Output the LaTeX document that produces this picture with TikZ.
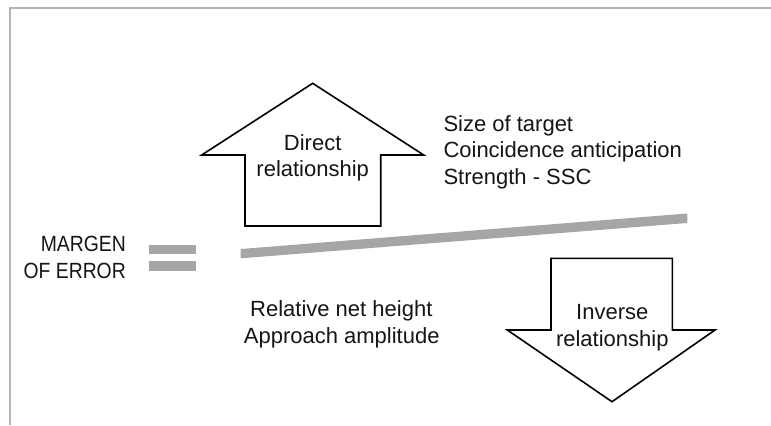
\documentclass[tikz,border=0pt]{standalone}
\usepackage{fontspec}
\setmainfont{Liberation Sans}
\definecolor{framegray}{HTML}{B4B4B4}
\definecolor{bargray}{HTML}{A6A6A6}
\definecolor{txt}{HTML}{151515}
\begin{document}
\begin{tikzpicture}[x=1bp,y=-1bp,
  lbl/.style={inner sep=0pt,text=txt,font=\fontsize{22bp}{26.6bp}\selectfont},
  arrowshape/.style={draw=black,line width=1.6bp,fill=white,line join=miter},
  barfill/.style={fill=bargray,draw=none}]
\useasboundingbox (0,0) rectangle (771,425);
\fill[white] (0,0) rectangle (771,425);
% frame
\draw[framegray,line width=2bp] (10,425) -- (10,8) -- (771,8);
% equals sign
\fill[barfill] (149,245) rectangle (196,254.3);
\fill[barfill] (149,261) rectangle (196,270.7);
% slanted bar
\fill[barfill] (240.7,249) -- (687.3,213.5) -- (687.3,223) -- (240.7,258.3) -- cycle;
% up arrow
\draw[arrowshape] (312.7,83.3) -- (423.7,155) -- (380.7,155) -- (380.7,226)
  -- (245,226) -- (245,155) -- (201.7,155) -- cycle;
% down arrow
\draw[arrowshape] (612,401.7) -- (715,330) -- (672.3,330) -- (672.3,258.3)
  -- (551,258.3) -- (551,330) -- (507.3,330) -- cycle;
% texts
\node[lbl,anchor=base] (d1) at (312.7,150) {Direct};
\node[lbl,anchor=base] (d2) at (312.7,176.7) {relationship};
\node[lbl,anchor=base] (i1) at (612.3,319.3) {Inverse};
\node[lbl,anchor=base] (i2) at (612.3,346) {relationship};
\node[lbl,anchor=base west] (r1) at (443.3,131.7) {Size of target};
\node[lbl,anchor=base west] (r2) at (443.3,157.5) {Coincidence anticipation};
\node[lbl,anchor=base west] (r3) at (443.3,184) {Strength - SSC};
\node[lbl,anchor=base] (l1) at (341.3,316.7) {Relative net height};
\node[lbl,anchor=base] (l2) at (341.7,343.3) {Approach amplitude};
\node[lbl,anchor=base east] (m1) at (126,251.7) {\scalebox{0.88}[1]{MARGEN}};
\node[lbl,anchor=base east] (m2) at (126,278.3) {\scalebox{0.88}[1]{OF ERROR}};
\end{tikzpicture}
\end{document}
